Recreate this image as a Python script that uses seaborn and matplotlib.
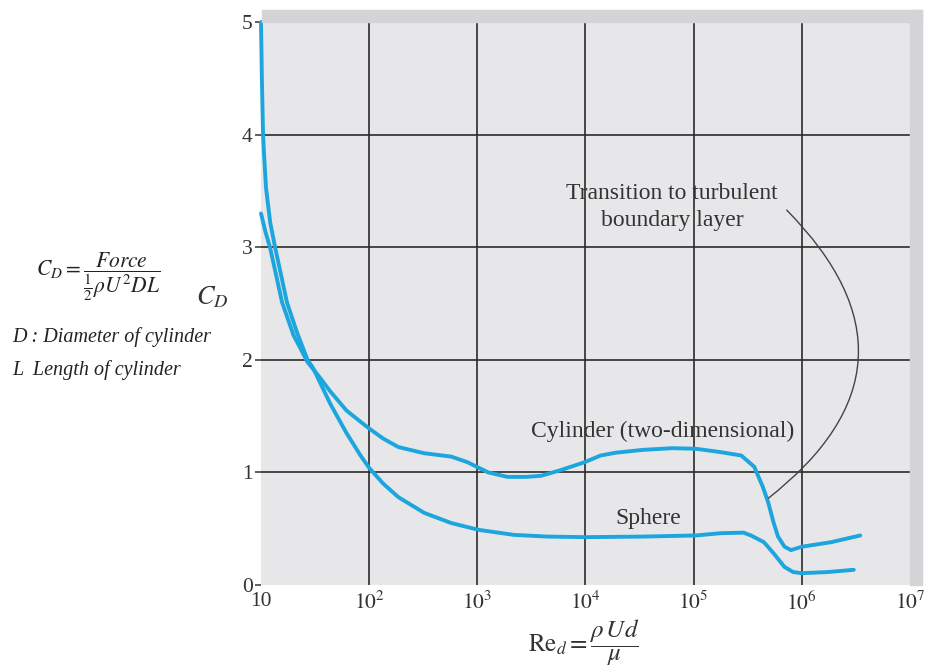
import numpy as np
import pandas as pd
import matplotlib
matplotlib.use("Agg")
import matplotlib.pyplot as plt
from matplotlib.patches import Rectangle
import seaborn as sns

# ---------------- data ----------------
cyl_log_re = [1.0, 1.04, 1.083, 1.195, 1.30, 1.43, 1.53, 1.64, 1.79, 1.92, 2.0, 2.13,
              2.27, 2.51, 2.76, 2.91, 3.10, 3.28, 3.45, 3.59, 3.77, 3.99, 4.14, 4.28,
              4.53, 4.8, 5.02, 5.25, 5.44, 5.56, 5.64, 5.69, 5.74, 5.78, 5.84, 5.90,
              6.0, 6.27, 6.54]
cyl_cd = [3.30, 3.14, 3.00, 2.51, 2.22, 1.98, 1.86, 1.72, 1.55, 1.45, 1.39, 1.30,
          1.225, 1.17, 1.14, 1.09, 1.00, 0.96, 0.96, 0.97, 1.02, 1.09, 1.15, 1.175,
          1.20, 1.215, 1.21, 1.18, 1.15, 1.05, 0.87, 0.73, 0.55, 0.43, 0.34, 0.31,
          0.34, 0.38, 0.44]

sph_log_re = [1.0, 1.008, 1.019, 1.028, 1.046, 1.085, 1.13, 1.24, 1.33, 1.43, 1.48,
              1.64, 1.79, 1.92, 2.0, 2.13, 2.27, 2.51, 2.76, 3.01, 3.34, 3.65, 4.0,
              4.53, 5.02, 5.25, 5.46, 5.53, 5.65, 5.74, 5.84, 5.92, 6.0, 6.24, 6.48]
sph_cd = [5.0, 4.5, 4.0, 3.83, 3.53, 3.22, 3.0, 2.51, 2.25, 2.0, 1.93,
          1.61, 1.35, 1.15, 1.04, 0.90, 0.78, 0.64, 0.55, 0.49, 0.445, 0.43, 0.425,
          0.43, 0.44, 0.46, 0.465, 0.44, 0.38, 0.28, 0.16, 0.115, 0.105, 0.115, 0.135]

x_tick_values = [1e1, 1e2, 1e3, 1e4, 1e5, 1e6, 1e7]
x_tick_labels = ["10", r"$10^2$", r"$10^3$", r"$10^4$", r"$10^5$", r"$10^6$", r"$10^7$"]
y_tick_values = [0, 1, 2, 3, 4, 5]

df = pd.concat([
    pd.DataFrame({"Re": 10 ** np.array(cyl_log_re), "CD": cyl_cd, "body": "Cylinder"}),
    pd.DataFrame({"Re": 10 ** np.array(sph_log_re), "CD": sph_cd, "body": "Sphere"}),
])

# ---------------- style ----------------
sns.set_style("white")
plt.rcParams["font.family"] = ["Liberation Serif", "DejaVu Serif"]
plt.rcParams["mathtext.fontset"] = "stix"

W, H = 928, 671
fig = plt.figure(figsize=(W / 100, H / 100), dpi=100)
fig.patch.set_facecolor("white")

def fx(px):
    return px / W

def fy(py):
    return 1 - py / H

# shadow frame (top and right)
fig.patches.append(Rectangle((fx(262), fy(22)), fx(922) - fx(262), fy(10) - fy(22),
                             transform=fig.transFigure, color="#d4d4d6", zorder=0))
fig.patches.append(Rectangle((fx(910), fy(585)), fx(922) - fx(910), fy(10) - fy(585),
                             transform=fig.transFigure, color="#d4d4d6", zorder=0))

ax = fig.add_axes([fx(261), fy(585), fx(910) - fx(261), fy(22) - fy(585)])
ax.set_facecolor("#e7e7e9")

line_color = "#1da5de"
sns.lineplot(data=df, x="Re", y="CD", hue="body", units="body", estimator=None,
             sort=False, palette=[line_color, line_color], linewidth=2.8,
             legend=False, ax=ax, zorder=5)
for ln in ax.lines:
    ln.set_clip_on(False)
    ln.set_solid_capstyle("round")
    ln.set_solid_joinstyle("round")

ax.set_xscale("log")
ax.set_xlim(1e1, 1e7)
ax.set_ylim(0, 5)

# grid
for v in x_tick_values[1:-1]:
    ax.axvline(v, color="#2b2b2b", lw=1.2, zorder=2)
for v in y_tick_values[1:-1]:
    ax.axhline(v, color="#2b2b2b", lw=1.2, zorder=2)

for s in ax.spines.values():
    s.set_visible(False)

ax.set_xticks(x_tick_values)
ax.set_xticklabels(x_tick_labels)
ax.xaxis.set_minor_locator(matplotlib.ticker.NullLocator())
ax.set_yticks(y_tick_values)
ax.tick_params(axis="x", length=0, pad=5, labelsize=15.5, labelcolor="#333333")
ax.tick_params(axis="y", length=4, width=1.1, color="#333333", pad=2,
               labelsize=15.5, labelcolor="#333333", left=True)
ax.set_xlabel("")
ax.set_ylabel("")

# annotations
txt_kw = dict(ha="center", va="center", fontsize=17, color="#333333", zorder=6)
ax.text(10 ** 4.80, 3.48, "Transition to turbulent", **txt_kw)
ax.text(10 ** 4.80, 3.24, "boundary layer", **txt_kw)
ax.text(10 ** 4.71, 1.36, "Cylinder (two-dimensional)", **txt_kw)
ax.text(10 ** 4.58, 0.595, "Sphere", **txt_kw)

ax.annotate("", xy=(10 ** 5.69, 0.77), xytext=(10 ** 5.86, 3.33),
            arrowprops=dict(arrowstyle="-", color="#444444", lw=1.0,
                            connectionstyle="arc3,rad=-0.56",
                            shrinkA=0, shrinkB=0), zorder=6)

# axis titles and side text
fig.text(fx(584), fy(643), r"$\mathrm{Re}_d = \dfrac{\rho\, U d}{\mu}$",
         ha="center", va="center", fontsize=18, color="#333333")
fig.text(fx(212), fy(297), r"$C_D$", ha="center", va="center", fontsize=19,
         color="#333333")
fig.text(fx(36), fy(277), r"$C_D = \dfrac{Force}{\frac{1}{2}\rho U^2 DL}$",
         ha="left", va="center", fontsize=15.5, color="#222222")
fig.text(fx(12), fy(337), "D : Diameter of cylinder", ha="left", va="center",
         fontsize=14.5, fontstyle="italic", color="#222222")
fig.text(fx(12), fy(370), "L  Length of cylinder", ha="left", va="center",
         fontsize=14.5, fontstyle="italic", color="#222222")

fig.savefig("out.png", dpi=100)
